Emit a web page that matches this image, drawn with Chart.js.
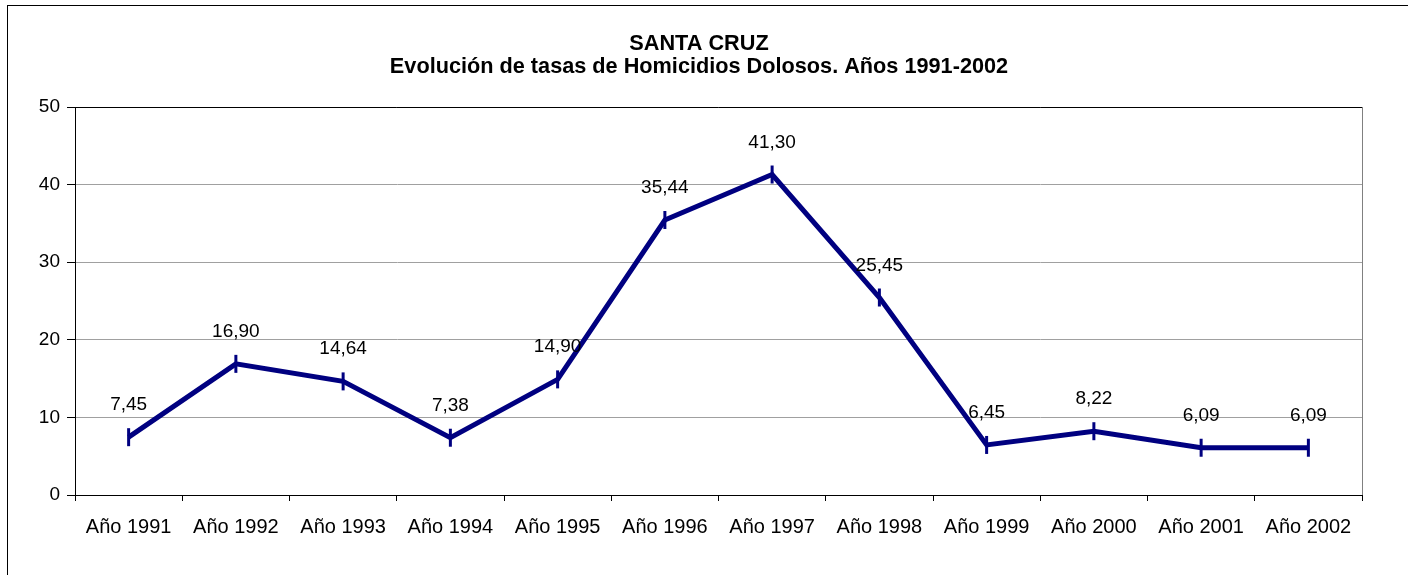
<!DOCTYPE html>
<html>
<head>
<meta charset="utf-8">
<script src="https://cdn.jsdelivr.net/npm/chart.js@4.4.1/dist/chart.umd.min.js"></script>
<style>
  html, body { margin: 0; padding: 0; background: #ffffff; }
  #wrap { width: 1408px; height: 575px; position: relative; }
</style>
</head>
<body>
<div id="wrap"><canvas id="c" width="1408" height="575"></canvas></div>
<script>
const titleLines = ['SANTA CRUZ', 'Evolución de tasas de Homicidios Dolosos. Años 1991-2002'];
const categories = ['Año 1991', 'Año 1992', 'Año 1993', 'Año 1994', 'Año 1995', 'Año 1996',
                    'Año 1997', 'Año 1998', 'Año 1999', 'Año 2000', 'Año 2001', 'Año 2002'];
const rates = [7.45, 16.90, 14.64, 7.38, 14.90, 35.44, 41.30, 25.45, 6.45, 8.22, 6.09, 6.09];
const yMin = 0, yMax = 50, yStep = 10;

const FONT = "'Liberation Sans', Arial, sans-serif";

const framePlugin = {
  id: 'frame',
  beforeDraw(chart) {
    const ctx = chart.ctx;
    ctx.save();
    ctx.fillStyle = '#ffffff';
    ctx.fillRect(0, 0, chart.width, chart.height);
    ctx.strokeStyle = '#000000';
    ctx.lineWidth = 1;
    ctx.strokeRect(7.5, 5.5, chart.width + 10, chart.height + 10);
    ctx.fillStyle = '#000000';
    ctx.font = 'bold 21.7px ' + FONT;
    ctx.textAlign = 'center';
    ctx.textBaseline = 'middle';
    titleLines.forEach((t, i) => ctx.fillText(t, 699, 44.5 + i * 22.5));
    ctx.restore();
  },
  afterDatasetsDraw(chart) {
    const ctx = chart.ctx;
    const a = chart.chartArea;
    ctx.save();
    ctx.lineWidth = 1;
    ctx.strokeStyle = '#000000';
    ctx.beginPath();
    ctx.moveTo(a.left, Math.round(a.top) + 0.5);
    ctx.lineTo(a.right, Math.round(a.top) + 0.5);
    ctx.stroke();
    ctx.strokeStyle = '#808080';
    ctx.beginPath();
    ctx.moveTo(Math.round(a.right) + 0.5, a.top);
    ctx.lineTo(Math.round(a.right) + 0.5, a.bottom);
    ctx.stroke();
    const meta = chart.getDatasetMeta(0);
    ctx.fillStyle = '#000000';
    ctx.font = '19px ' + FONT;
    ctx.textAlign = 'center';
    ctx.textBaseline = 'alphabetic';
    meta.data.forEach((pt, i) => {
      const v = chart.data.datasets[0].data[i];
      const txt = v.toFixed(2).replace('.', ',');
      ctx.fillText(txt, pt.x, pt.y - 27);
    });
    ctx.restore();
  }
};

new Chart(document.getElementById('c'), {
  type: 'line',
  data: {
    labels: categories,
    datasets: [{
      data: rates,
      borderColor: '#000080',
      backgroundColor: '#000080',
      borderWidth: 5,
      tension: 0,
      pointStyle: 'line',
      rotation: 90,
      pointRadius: 9,
      pointHoverRadius: 9,
      pointBorderWidth: 3,
      pointBorderColor: '#000080',
      clip: false
    }]
  },
  options: {
    responsive: false,
    animation: false,
    devicePixelRatio: 1,
    layout: { padding: { left: 8, right: 46, top: 107, bottom: 0 } },
    plugins: {
      legend: { display: false },
      tooltip: { enabled: false },
      title: { display: false }
    },
    scales: {
      x: {
        offset: true,
        grid: { display: true, offset: true, drawOnChartArea: false, drawTicks: true, tickLength: 6, color: '#000000' },
        border: { display: true, color: '#000000', width: 1 },
        ticks: { color: '#000000', font: { family: FONT, size: 20 }, padding: 14, maxRotation: 0, autoSkip: false },
        afterFit(scale) { scale.height = 80; }
      },
      y: {
        min: yMin, max: yMax,
        grid: { color: '#a0a0a0', tickColor: '#000000', drawTicks: true, tickLength: 8, lineWidth: 1 },
        border: { display: true, color: '#000000', width: 1 },
        ticks: { stepSize: yStep, color: '#000000', font: { family: FONT, size: 19 }, padding: 7 },
        afterFit(scale) { scale.width = 67; }
      }
    }
  },
  plugins: [framePlugin]
});
</script>
</body>
</html>
